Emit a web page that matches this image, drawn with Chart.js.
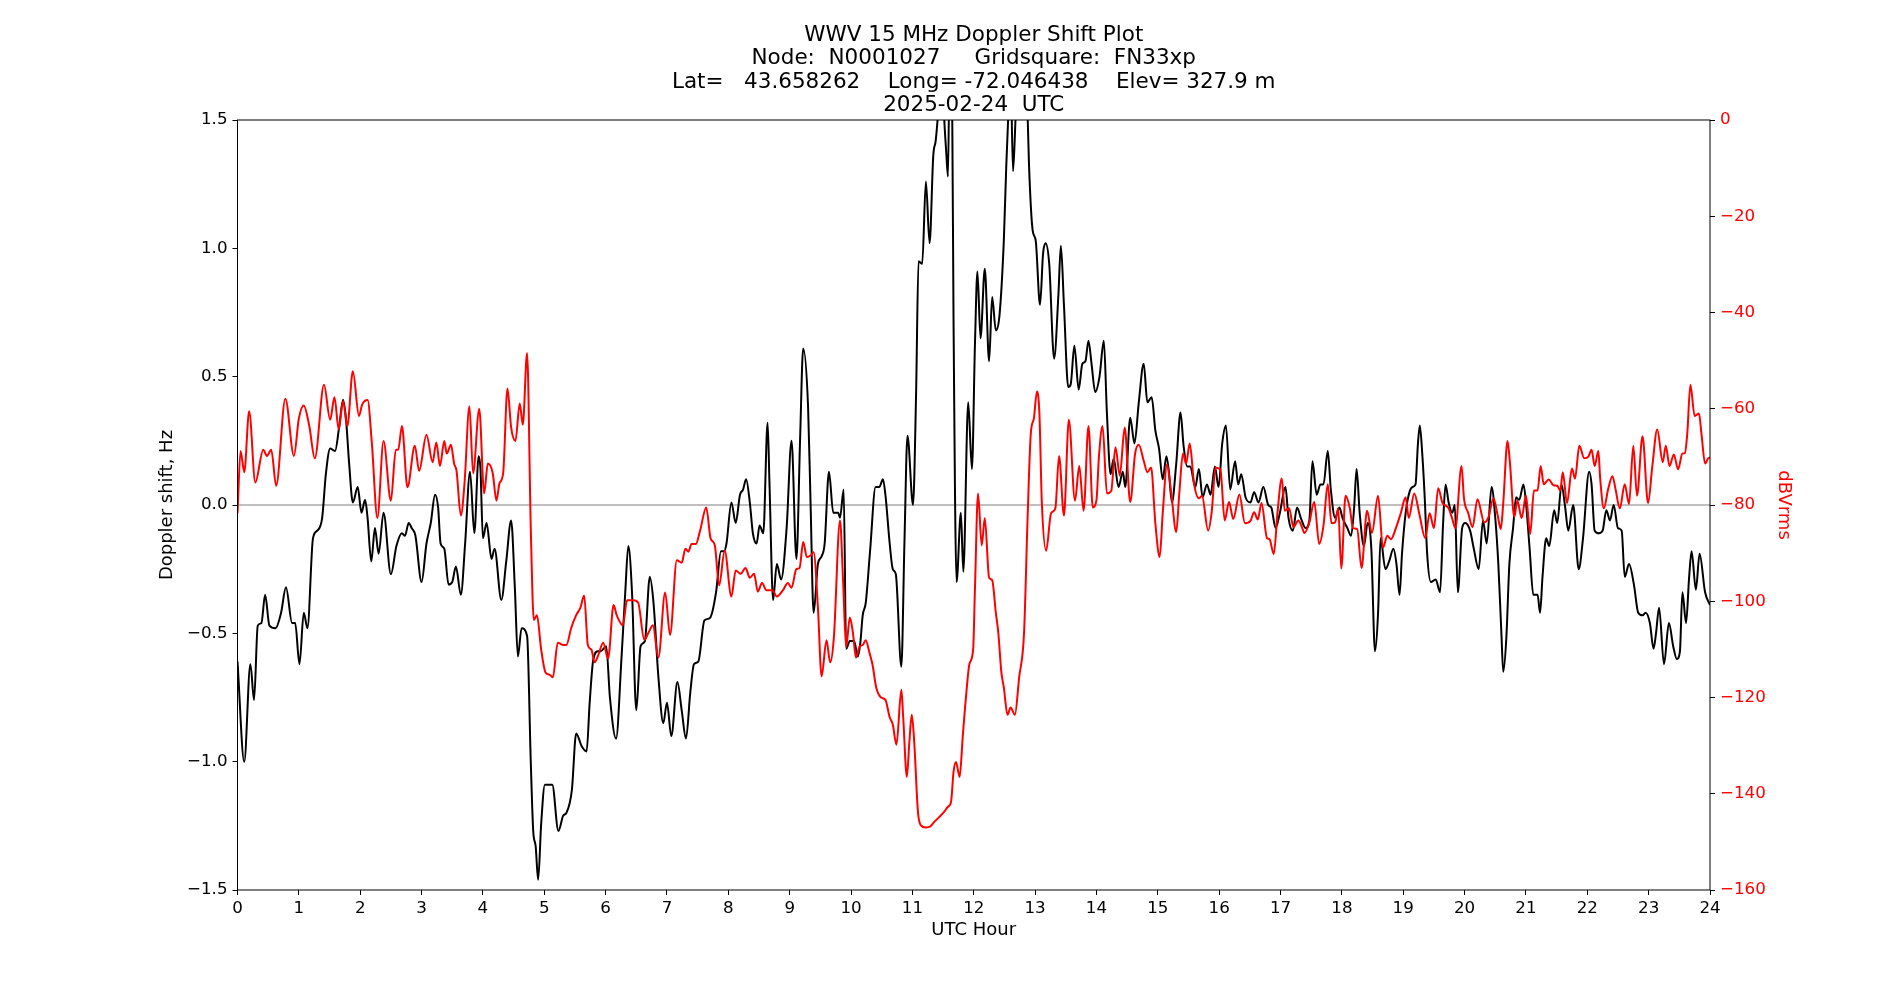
<!DOCTYPE html>
<html><head><meta charset="utf-8">
<script src="https://cdn.jsdelivr.net/npm/chart.js@4.4.1/dist/chart.umd.min.js"></script>
<style>html,body{margin:0;padding:0;background:#fff;}canvas{display:block;}</style>
</head><body>
<canvas id="c" width="1900" height="1000"></canvas>
<script>
const titleLines = [
  'WWV 15 MHz Doppler Shift Plot',
  'Node:  N0001027     Gridsquare:  FN33xp',
  'Lat=   43.658262    Long= -72.046438    Elev= 327.9 m',
  '2025-02-24  UTC'
];
const xTitle = 'UTC Hour';
const yTitle = 'Doppler shift, Hz';
const y2Title = 'dBVrms';

const blackHours = [0.00,0.11,0.21,0.27,0.33,0.39,0.45,0.52,0.62,0.71,0.79,0.89,0.94,1.01,1.08,1.14,1.23,1.30,1.38,1.44,1.51,1.59,1.66,1.72,1.77,1.82,1.88,1.96,2.02,2.08,2.12,2.18,2.24,2.30,2.38,2.50,2.59,2.68,2.73,2.79,2.84,2.90,3.00,3.08,3.15,3.22,3.27,3.31,3.37,3.44,3.50,3.56,3.64,3.71,3.79,3.86,3.93,3.96,4.00,4.06,4.14,4.19,4.30,4.38,4.46,4.52,4.57,4.63,4.72,4.78,4.82,4.86,4.90,4.95,5.01,5.13,5.23,5.31,5.36,5.45,5.52,5.61,5.69,5.74,5.80,5.88,5.92,6.01,6.07,6.17,6.26,6.32,6.37,6.43,6.50,6.57,6.64,6.72,6.78,6.86,6.94,7.00,7.07,7.17,7.24,7.31,7.38,7.44,7.51,7.61,7.70,7.80,7.88,7.93,7.97,8.05,8.12,8.19,8.24,8.29,8.35,8.40,8.46,8.51,8.57,8.64,8.67,8.73,8.79,8.86,8.95,9.03,9.11,9.17,9.22,9.30,9.34,9.39,9.46,9.52,9.57,9.64,9.71,9.79,9.82,9.88,9.92,9.98,10.05,10.11,10.15,10.19,10.24,10.31,10.40,10.46,10.52,10.56,10.63,10.68,10.73,10.82,10.87,10.92,11.01,11.06,11.10,11.16,11.22,11.28,11.34,11.38,11.41,11.48,11.52,11.55,11.58,11.61,11.65,11.67,11.72,11.79,11.83,11.91,11.97,12.02,12.06,12.11,12.18,12.25,12.30,12.36,12.42,12.49,12.53,12.56,12.60,12.64,12.68,12.74,12.82,12.88,12.90,12.96,13.01,13.08,13.13,13.17,13.23,13.31,13.38,13.42,13.47,13.54,13.58,13.64,13.71,13.77,13.82,13.87,13.92,13.98,14.05,14.12,14.17,14.23,14.28,14.36,14.43,14.47,14.55,14.62,14.69,14.77,14.83,14.90,14.96,15.02,15.08,15.14,15.18,15.23,15.30,15.37,15.42,15.48,15.53,15.61,15.67,15.73,15.80,15.86,15.93,15.99,16.05,16.11,16.18,16.26,16.31,16.36,16.43,16.51,16.57,16.64,16.72,16.80,16.85,16.92,16.99,17.08,17.13,17.20,17.27,17.33,17.41,17.47,17.52,17.59,17.65,17.70,17.77,17.82,17.89,17.96,18.01,18.09,18.15,18.20,18.24,18.29,18.36,18.42,18.48,18.54,18.59,18.63,18.71,18.77,18.84,18.89,18.94,18.98,19.04,19.09,19.15,19.20,19.24,19.27,19.31,19.35,19.39,19.45,19.53,19.60,19.65,19.69,19.74,19.80,19.84,19.89,19.96,20.01,20.09,20.15,20.23,20.30,20.36,20.44,20.50,20.55,20.60,20.63,20.68,20.73,20.79,20.84,20.89,20.96,21.00,21.06,21.12,21.19,21.23,21.27,21.33,21.38,21.46,21.51,21.58,21.64,21.69,21.77,21.86,21.93,22.03,22.07,22.12,22.19,22.25,22.31,22.37,22.43,22.50,22.56,22.61,22.68,22.76,22.83,22.90,22.95,23.02,23.08,23.12,23.17,23.25,23.33,23.40,23.46,23.51,23.55,23.61,23.66,23.70,23.77,23.83,23.92,24.00];
const dopplerShift = [-0.61,-1.00,-0.62,-0.76,-0.47,-0.46,-0.35,-0.47,-0.48,-0.42,-0.32,-0.46,-0.46,-0.62,-0.42,-0.48,-0.13,-0.10,-0.05,0.12,0.22,0.21,0.31,0.41,0.33,0.16,0.01,0.07,-0.03,0.02,-0.05,-0.22,-0.09,-0.19,-0.03,-0.27,-0.16,-0.11,-0.12,-0.07,-0.09,-0.12,-0.30,-0.15,-0.07,0.04,-0.01,-0.15,-0.17,-0.31,-0.30,-0.24,-0.35,-0.15,0.13,-0.11,0.19,0.14,-0.13,-0.07,-0.21,-0.17,-0.37,-0.22,-0.06,-0.32,-0.59,-0.48,-0.51,-1.00,-1.27,-1.33,-1.46,-1.24,-1.09,-1.09,-1.27,-1.21,-1.20,-1.11,-0.89,-0.94,-0.96,-0.77,-0.60,-0.57,-0.57,-0.55,-0.75,-0.91,-0.59,-0.34,-0.16,-0.34,-0.80,-0.55,-0.53,-0.28,-0.38,-0.67,-0.85,-0.77,-0.90,-0.69,-0.80,-0.91,-0.73,-0.62,-0.61,-0.45,-0.44,-0.34,-0.18,-0.18,-0.15,0.01,-0.07,0.04,0.06,0.10,0.01,-0.11,-0.15,-0.08,-0.11,0.32,0.09,-0.37,-0.23,-0.29,-0.09,0.25,-0.21,0.26,0.61,0.38,0.01,-0.42,-0.23,-0.20,-0.15,0.13,-0.03,-0.03,-0.05,0.06,-0.56,-0.53,-0.53,-0.59,-0.54,-0.43,-0.38,-0.18,0.07,0.07,0.10,0.04,-0.15,-0.25,-0.27,-0.63,-0.15,0.27,0.00,0.43,0.95,0.94,1.26,1.02,1.36,1.42,1.50,1.75,1.50,1.38,1.28,1.80,1.50,0.74,-0.30,-0.03,-0.26,0.40,0.14,0.63,0.91,0.65,0.92,0.56,0.81,0.68,0.74,1.03,1.32,1.50,1.70,1.30,1.50,1.85,1.75,1.50,1.33,1.07,1.03,0.78,0.98,1.02,0.94,0.57,0.82,1.01,0.78,0.46,0.47,0.62,0.45,0.55,0.56,0.64,0.55,0.44,0.50,0.64,0.36,0.12,0.18,0.07,0.13,0.07,0.34,0.24,0.40,0.55,0.40,0.42,0.29,0.22,0.10,0.19,0.13,0.01,0.16,0.36,0.23,0.15,0.15,0.07,0.14,0.03,0.08,0.04,0.15,0.07,0.24,0.31,0.06,0.17,0.08,0.12,0.03,0.01,0.05,0.01,0.07,0.00,-0.01,-0.09,-0.03,0.07,-0.05,-0.10,-0.01,-0.05,-0.09,-0.06,0.17,0.04,0.08,0.08,0.21,0.06,-0.05,-0.01,-0.05,-0.09,-0.12,-0.01,0.14,-0.03,-0.16,-0.07,-0.17,-0.57,-0.42,-0.13,-0.25,-0.22,-0.17,-0.23,-0.35,-0.19,-0.03,0.04,0.07,0.08,0.24,0.31,0.20,0.03,-0.19,-0.30,-0.29,-0.34,-0.07,0.08,0.01,-0.03,0.00,-0.34,-0.09,-0.07,-0.10,-0.17,-0.25,-0.06,-0.15,0.07,-0.05,-0.23,-0.50,-0.65,-0.52,-0.23,-0.09,0.03,0.02,0.08,0.01,-0.17,-0.35,-0.35,-0.42,-0.28,-0.13,-0.16,-0.02,-0.07,0.08,-0.01,-0.10,0.00,-0.25,-0.13,0.13,0.08,-0.10,-0.11,-0.10,-0.02,-0.06,0.00,-0.09,-0.10,-0.28,-0.23,-0.31,-0.42,-0.43,-0.42,-0.46,-0.56,-0.50,-0.40,-0.62,-0.46,-0.55,-0.60,-0.57,-0.34,-0.46,-0.28,-0.18,-0.33,-0.19,-0.34,-0.39];

const redHours = [0.00,0.05,0.11,0.19,0.29,0.42,0.48,0.55,0.63,0.78,0.92,1.00,1.08,1.17,1.26,1.41,1.51,1.58,1.65,1.72,1.79,1.88,1.98,2.03,2.12,2.19,2.28,2.38,2.50,2.58,2.62,2.68,2.77,2.89,2.96,3.08,3.18,3.24,3.30,3.37,3.41,3.48,3.53,3.57,3.64,3.70,3.78,3.84,3.94,4.02,4.08,4.16,4.22,4.27,4.33,4.40,4.46,4.53,4.60,4.65,4.72,4.78,4.83,4.88,4.95,5.02,5.09,5.14,5.22,5.31,5.36,5.44,5.52,5.59,5.65,5.71,5.77,5.82,5.88,5.96,6.04,6.13,6.18,6.28,6.35,6.45,6.53,6.63,6.70,6.77,6.86,6.97,7.05,7.16,7.24,7.30,7.35,7.40,7.47,7.54,7.64,7.71,7.78,7.85,7.94,8.05,8.12,8.20,8.28,8.35,8.42,8.48,8.55,8.62,8.72,8.79,8.89,8.97,9.03,9.11,9.16,9.22,9.28,9.34,9.39,9.46,9.52,9.60,9.66,9.72,9.82,9.87,9.92,9.98,10.03,10.08,10.14,10.19,10.24,10.30,10.35,10.41,10.49,10.56,10.63,10.68,10.74,10.82,10.85,10.91,10.95,10.99,11.03,11.09,11.14,11.22,11.29,11.36,11.44,11.52,11.58,11.63,11.67,11.71,11.77,11.82,11.88,11.93,11.99,12.02,12.07,12.13,12.18,12.25,12.30,12.36,12.40,12.45,12.49,12.55,12.60,12.67,12.74,12.82,12.88,12.93,12.98,13.03,13.07,13.11,13.18,13.26,13.33,13.39,13.47,13.55,13.65,13.72,13.79,13.87,13.94,14.00,14.04,14.10,14.17,14.24,14.31,14.38,14.46,14.55,14.63,14.69,14.77,14.83,14.89,14.96,15.03,15.08,15.15,15.22,15.30,15.35,15.41,15.46,15.52,15.59,15.67,15.72,15.82,15.88,15.94,15.99,16.02,16.09,16.16,16.23,16.33,16.42,16.51,16.57,16.63,16.69,16.78,16.82,16.89,16.95,17.02,17.07,17.14,17.21,17.29,17.34,17.39,17.47,17.55,17.63,17.70,17.77,17.83,17.89,17.94,17.99,18.06,18.13,18.18,18.25,18.32,18.41,18.49,18.59,18.67,18.74,18.80,18.88,18.96,19.04,19.09,19.18,19.26,19.36,19.43,19.50,19.57,19.64,19.69,19.74,19.80,19.85,19.95,19.99,20.06,20.13,20.21,20.32,20.39,20.47,20.54,20.59,20.63,20.70,20.74,20.81,20.86,20.93,21.00,21.07,21.13,21.19,21.24,21.29,21.37,21.45,21.51,21.56,21.60,21.67,21.75,21.80,21.87,21.95,22.02,22.07,22.12,22.18,22.21,22.27,22.34,22.41,22.46,22.53,22.61,22.68,22.75,22.81,22.90,22.99,23.06,23.14,23.23,23.28,23.34,23.41,23.48,23.55,23.59,23.63,23.68,23.75,23.82,23.86,23.92,23.97,24.00];
const signalDb = [-81.7,-68.8,-73.2,-60.5,-75.3,-68.5,-69.8,-68.5,-76.0,-57.9,-69.8,-62.0,-59.3,-63.6,-70.3,-55.0,-62.3,-57.6,-64.3,-58.4,-63.6,-52.2,-61.5,-59.2,-58.2,-67.2,-82.7,-66.7,-79.1,-68.5,-68.5,-63.6,-76.3,-67.7,-72.9,-65.4,-71.1,-67.0,-71.9,-66.7,-69.3,-67.5,-71.4,-72.9,-82.2,-75.5,-59.5,-73.4,-60.0,-77.6,-71.4,-73.4,-79.1,-75.5,-73.4,-55.8,-63.9,-66.7,-58.9,-63.3,-48.4,-84.8,-103.9,-102.9,-110.1,-114.8,-115.3,-115.8,-108.6,-109.1,-109.1,-105.5,-102.9,-101.3,-98.8,-109.1,-110.1,-112.7,-111.2,-108.6,-111.9,-100.8,-102.9,-105.0,-99.8,-99.8,-100.3,-108.0,-106.5,-105.0,-111.7,-98.2,-107.0,-91.5,-92.0,-89.1,-89.7,-88.1,-88.1,-85.3,-80.5,-86.9,-88.4,-96.7,-89.5,-99.0,-93.6,-94.3,-93.1,-95.1,-94.3,-98.0,-96.2,-97.7,-97.7,-99.0,-97.7,-96.2,-97.2,-93.3,-93.1,-87.7,-90.8,-90.5,-89.8,-101.3,-115.6,-108.1,-112.7,-107.5,-83.2,-95.7,-109.6,-103.4,-106.5,-111.7,-109.4,-109.1,-108.1,-110.7,-113.2,-117.9,-120.0,-120.5,-124.1,-125.6,-129.8,-118.4,-124.1,-136.5,-129.3,-123.6,-129.3,-143.7,-146.6,-147.0,-146.8,-145.8,-144.8,-143.7,-142.7,-141.7,-135.5,-133.4,-136.5,-128.2,-118.9,-113.0,-110.0,-97.2,-77.6,-88.4,-82.7,-95.1,-95.6,-102.4,-106.5,-114.8,-117.9,-123.6,-122.1,-123.6,-115.8,-106.5,-81.7,-65.1,-62.0,-56.4,-61.0,-79.6,-89.5,-81.7,-80.7,-69.8,-82.2,-62.3,-79.1,-71.9,-81.2,-63.6,-80.5,-79.0,-70.0,-63.6,-77.6,-77.1,-68.0,-73.9,-63.9,-79.4,-69.3,-67.5,-70.8,-73.2,-72.2,-83.8,-90.8,-81.7,-71.6,-77.6,-85.6,-77.6,-69.3,-71.4,-67.2,-75.5,-78.6,-78.1,-85.3,-81.2,-72.2,-72.4,-72.6,-83.2,-79.4,-82.9,-77.8,-83.8,-83.3,-81.5,-83.0,-79.6,-86.9,-87.1,-90.2,-81.7,-74.5,-81.2,-80.7,-84.6,-83.2,-84.3,-85.8,-83.6,-79.4,-88.1,-84.3,-75.7,-83.8,-83.6,-80.7,-93.2,-78.1,-80.7,-84.8,-85.0,-93.1,-81.2,-85.8,-78.1,-88.9,-86.4,-87.1,-84.8,-81.7,-78.4,-82.7,-77.6,-81.7,-86.9,-81.7,-84.8,-76.5,-79.6,-80.1,-80.7,-82.9,-84.8,-71.9,-78.6,-81.7,-84.6,-78.8,-83.6,-82.5,-78.6,-82.2,-85.0,-79.6,-66.7,-71.4,-82.5,-79.1,-82.7,-78.1,-86.0,-77.0,-77.0,-71.9,-75.7,-74.7,-75.9,-76.0,-77.0,-73.2,-79.6,-72.4,-74.5,-67.7,-70.3,-69.9,-68.5,-71.9,-68.8,-74.5,-80.7,-76.7,-74.0,-76.7,-80.7,-75.7,-79.8,-67.7,-78.1,-65.7,-79.6,-71.9,-64.3,-71.1,-67.7,-71.9,-69.5,-72.6,-69.3,-69.2,-65.1,-55.0,-61.5,-61.0,-65.1,-71.4,-70.3,-70.1];

const zeroLineHours = [0, 24];
const zeroLineValues = [0, 0];

const toXY = (xs, ys) => xs.map((x, i) => ({x: x, y: ys[i]}));
const withMinus = s => String(s).replace('-', '\u2212');
const FONT = 'DejaVu Sans';
const TICK_SIZE = 16.7;
const LABEL_SIZE = 18;

const framePlugin = {
  id: 'frame',
  afterDatasetsDraw(chart) {
    const {ctx, chartArea: a} = chart;
    ctx.save();
    ctx.strokeStyle = '#000';
    ctx.lineWidth = 1;
    ctx.strokeRect(a.left, a.top, a.right - a.left, a.bottom - a.top);
    ctx.restore();
  }
};

new Chart(document.getElementById('c').getContext('2d'), {
  type: 'line',
  data: {
    datasets: [
      {label: 'dBVrms', data: toXY(redHours, signalDb), yAxisID: 'y2', xAxisID: 'x',
       borderColor: '#ff0000', borderWidth: 2, pointRadius: 0, fill: false,
       cubicInterpolationMode: 'monotone', order: 0},
      {label: 'Doppler shift', data: toXY(blackHours, dopplerShift), yAxisID: 'y', xAxisID: 'x',
       borderColor: '#000000', borderWidth: 2, pointRadius: 0, fill: false,
       cubicInterpolationMode: 'monotone', order: 1},
      {label: 'zero', data: toXY(zeroLineHours, zeroLineValues), yAxisID: 'y', xAxisID: 'x',
       borderColor: '#808080', borderWidth: 1.2, pointRadius: 0, fill: false, order: 2}
    ]
  },
  options: {
    responsive: false,
    animation: false,
    events: [],
    layout: {padding: 0},
    plugins: {
      legend: {display: false},
      tooltip: {enabled: false},
      title: {
        display: true, fullSize: false, text: titleLines, color: '#000',
        font: {family: FONT, size: 21.5, weight: 'normal', lineHeight: '23.2px'},
        padding: {top: 24, bottom: 3.2}
      }
    },
    scales: {
      x: {
        type: 'linear', position: 'bottom', min: 0, max: 24,
        ticks: {stepSize: 1, autoSkip: false, maxRotation: 0, color: '#000',
                font: {family: FONT, size: TICK_SIZE}, padding: 4},
        grid: {drawOnChartArea: false, drawTicks: true, tickLength: 5, tickColor: '#000', tickWidth: 1},
        border: {display: false},
        title: {display: true, text: xTitle, color: '#000', font: {family: FONT, size: LABEL_SIZE},
                padding: {top: 0, bottom: 58.6}},
        afterFit(s) { s.height = 110; }
      },
      y: {
        type: 'linear', position: 'left', min: -1.5, max: 1.5,
        ticks: {stepSize: 0.5, color: '#000', font: {family: FONT, size: TICK_SIZE}, padding: 5,
                callback: v => withMinus(Number(v).toFixed(1))},
        grid: {drawOnChartArea: false, drawTicks: true, tickLength: 5, tickColor: '#000', tickWidth: 1},
        border: {display: false},
        title: {display: true, text: yTitle, color: '#000', font: {family: FONT, size: LABEL_SIZE},
                padding: {top: 156.2, bottom: 0}},
        afterFit(s) { s.width = 237.5; }
      },
      y2: {
        type: 'linear', position: 'right', min: -160, max: 0,
        ticks: {stepSize: 20, color: '#ff0000', font: {family: FONT, size: TICK_SIZE}, padding: 5,
                callback: v => withMinus(v)},
        grid: {drawOnChartArea: false, drawTicks: true, tickLength: 5, tickColor: '#000', tickWidth: 1},
        border: {display: false},
        title: {display: true, text: y2Title, color: '#ff0000', font: {family: FONT, size: LABEL_SIZE},
                padding: {top: 105.6, bottom: 0}},
        afterFit(s) { s.width = 190; }
      }
    }
  },
  plugins: [framePlugin]
});
</script>
</body></html>
